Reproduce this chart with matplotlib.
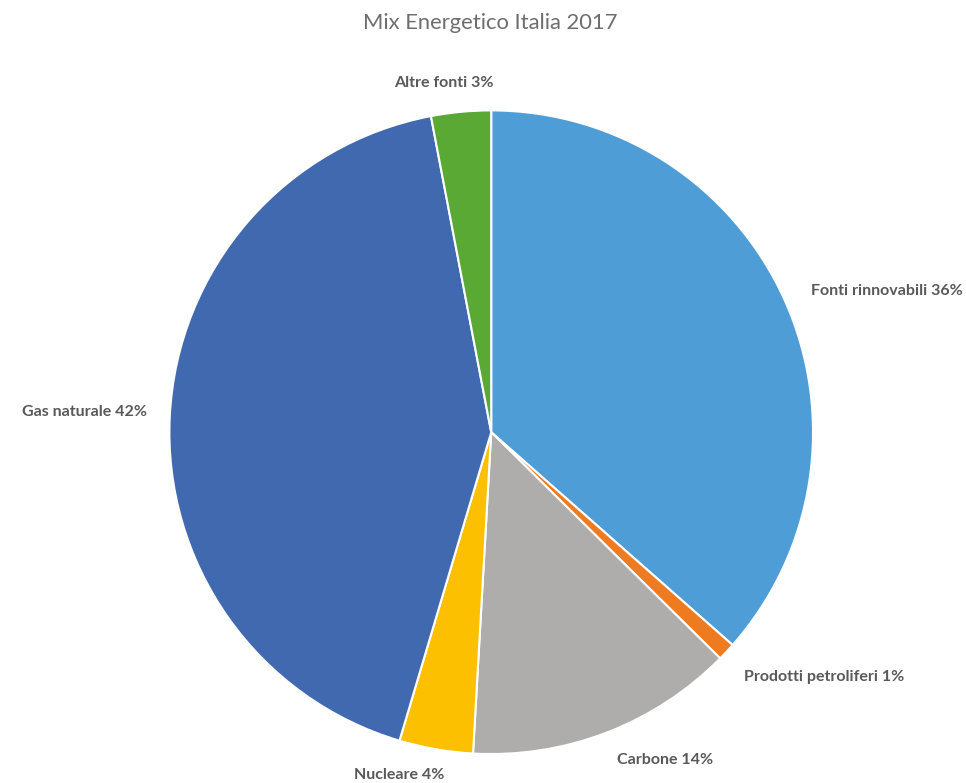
import matplotlib
matplotlib.use("Agg")
import matplotlib.pyplot as plt
import numpy as np

plt.rcParams['font.family'] = ['Lato', 'DejaVu Sans']

categories = ["Fonti rinnovabili", "Prodotti petroliferi", "Carbone",
              "Nucleare", "Gas naturale", "Altre fonti"]
values = [36.5, 0.9, 13.5, 3.7, 42.4, 3.0]
shown_pct = ["36%", "1%", "14%", "4%", "42%", "3%"]
colors = ["#4e9dd6", "#ee7b1f", "#afadab", "#fcc000", "#4169b0", "#5aa935"]

fig = plt.figure(figsize=(9.66, 7.83), dpi=100)
ax = fig.add_axes([0.175, 0.037, 0.667, 0.822])

wedges, _ = ax.pie(values, colors=colors, startangle=90, counterclock=False,
                   radius=1, wedgeprops=dict(edgecolor="white", linewidth=1.5))
ax.set_xlim(-1, 1)
ax.set_ylim(-1, 1)
ax.set_aspect('equal')
ax.axis('off')

# label placement: distance from centre, alignment, small nudges
label_dist = [1.07, 1.06, 1.06, 1.08, 1.07, 1.09]
label_ha = ["left", "left", "left", "center", "right", "center"]
label_dx = [0.02, 0.01, 0.01, -0.10, 0.0, -0.045]
label_dy = [0.0, -0.037, -0.03, 0.0, 0.01, 0.0]

for w, cat, pct, d, ha, dx, dy in zip(wedges, categories, shown_pct, label_dist,
                                      label_ha, label_dx, label_dy):
    ang = np.deg2rad((w.theta1 + w.theta2) / 2)
    x = d * np.cos(ang) + dx
    y = d * np.sin(ang) + dy
    ax.text(x, y, f"{cat} {pct}", ha=ha, va="center", fontsize=11.5,
            fontweight="bold", color="#595959")

fig.text(0.507, 1 - 23 / 783, "Mix Energetico Italia 2017", ha="center", va="center",
         fontsize=15.8, color="#6e6e6e")

fig.savefig("out.png", dpi=100, facecolor="white")
